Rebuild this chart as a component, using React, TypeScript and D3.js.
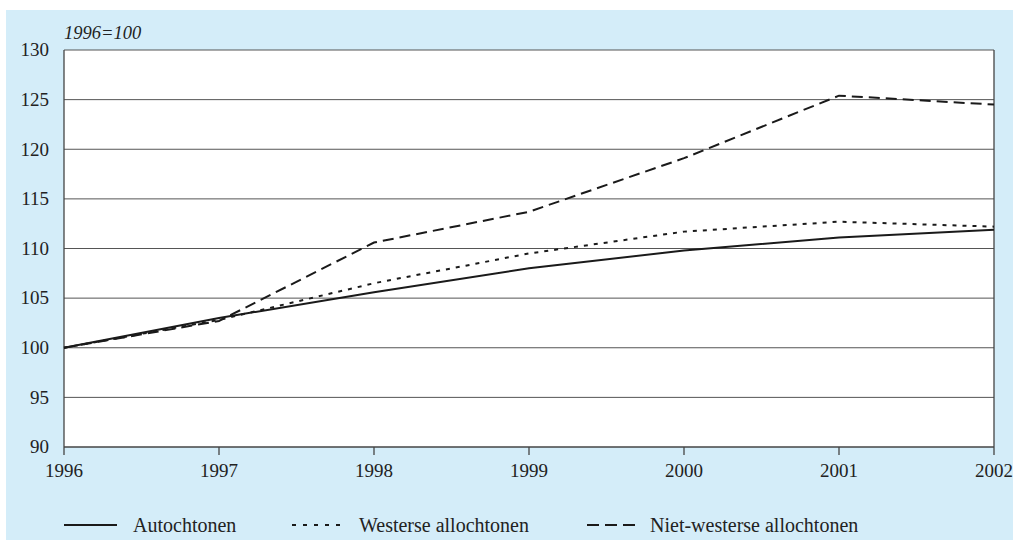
import React, { useEffect, useRef } from 'react';
import * as d3 from 'd3';

const YEARS = [1996, 1997, 1998, 1999, 2000, 2001, 2002];
const Y_TICKS = [90, 95, 100, 105, 110, 115, 120, 125, 130];

const AUTOCHTONEN = [100, 103.0, 105.6, 108.0, 109.8, 111.1, 111.9];
const WESTERS = [100, 102.8, 106.5, 109.5, 111.7, 112.7, 112.2];
const NIET_WESTERS = [100, 102.7, 110.6, 113.7, 119.1, 125.4, 124.5];

const SERIES_LABELS = ['Autochtonen', 'Westerse allochtonen', 'Niet-westerse allochtonen'];
const SERIES_DASH = ['none', '4 6', '11 6'];

const FONT = "'Liberation Serif', 'DejaVu Serif', serif";
const INK = '#222';

const App: React.FC = () => {
  const ref = useRef<SVGSVGElement>(null);

  useEffect(() => {
    const svgEl = ref.current;
    if (!svgEl) return;
    const svg = d3.select(svgEl);
    svg.selectAll('*').remove();

    const W = 1013;
    const plot = { left: 64, right: 994, top: 50, bottom: 447 };

    svg.append('rect').attr('x', 6).attr('y', 10).attr('width', W - 6).attr('height', 530).attr('fill', '#d4edf9');
    svg
      .append('rect')
      .attr('x', plot.left)
      .attr('y', plot.top)
      .attr('width', plot.right - plot.left)
      .attr('height', plot.bottom - plot.top)
      .attr('fill', '#fff');

    const x = d3.scaleLinear().domain([1996, 2002]).range([plot.left, plot.right]);
    const y = d3.scaleLinear().domain([90, 130]).range([plot.bottom, plot.top]);

    // gridlines
    svg
      .append('g')
      .selectAll('line')
      .data(Y_TICKS.filter((t) => t > 90))
      .join('line')
      .attr('x1', plot.left)
      .attr('x2', plot.right)
      .attr('y1', (d) => y(d))
      .attr('y2', (d) => y(d))
      .attr('stroke', '#555')
      .attr('stroke-width', 1);

    // y labels
    svg
      .append('g')
      .selectAll('text')
      .data(Y_TICKS)
      .join('text')
      .attr('x', 49)
      .attr('y', (d) => y(d))
      .attr('dy', '0.33em')
      .attr('text-anchor', 'end')
      .attr('font-family', FONT)
      .attr('font-size', 19)
      .attr('fill', INK)
      .text((d) => d);

    svg
      .append('text')
      .attr('x', plot.left)
      .attr('y', 39)
      .attr('font-family', FONT)
      .attr('font-style', 'italic')
      .attr('font-size', 18.5)
      .attr('fill', INK)
      .text('1996=100');

    // axes lines
    const axisG = svg.append('g').attr('stroke', '#444').attr('stroke-width', 1.3);
    axisG.append('line').attr('x1', plot.left).attr('x2', plot.left).attr('y1', plot.top).attr('y2', plot.bottom);
    axisG.append('line').attr('x1', plot.right).attr('x2', plot.right).attr('y1', plot.top).attr('y2', plot.bottom);
    axisG.append('line').attr('x1', plot.left).attr('x2', plot.right).attr('y1', plot.bottom).attr('y2', plot.bottom);
    axisG
      .selectAll('line.tick')
      .data(YEARS)
      .join('line')
      .attr('class', 'tick')
      .attr('x1', (d) => x(d))
      .attr('x2', (d) => x(d))
      .attr('y1', plot.bottom)
      .attr('y2', plot.bottom + 8);

    svg
      .append('g')
      .selectAll('text')
      .data(YEARS)
      .join('text')
      .attr('x', (d) => x(d))
      .attr('y', 477)
      .attr('text-anchor', 'middle')
      .attr('font-family', FONT)
      .attr('font-size', 19)
      .attr('fill', INK)
      .text((d) => d);

    // series
    const seriesData = [AUTOCHTONEN, WESTERS, NIET_WESTERS];
    const line = d3
      .line<number>()
      .x((_, i) => x(YEARS[i]))
      .y((d) => y(d));

    svg
      .append('g')
      .selectAll('path')
      .data(seriesData)
      .join('path')
      .attr('d', (d) => line(d))
      .attr('fill', 'none')
      .attr('stroke', '#1a1a1a')
      .attr('stroke-width', 2)
      .attr('stroke-dasharray', (_, i) => SERIES_DASH[i]);

    // legend
    const legendX = [64, 292, 587];
    const legend = svg
      .append('g')
      .selectAll('g')
      .data(SERIES_LABELS)
      .join('g')
      .attr('transform', (_, i) => `translate(${legendX[i]},525)`);
    legend
      .append('line')
      .attr('x1', 0)
      .attr('x2', (_, i) => (i === 0 ? 53 : 51))
      .attr('stroke', '#1a1a1a')
      .attr('stroke-width', 2)
      .attr('stroke-dasharray', (_, i) => (i === 1 ? '4 7' : i === 2 ? '12 6' : 'none'));
    legend
      .append('text')
      .attr('x', (_, i) => (i === 0 ? 69 : i === 1 ? 67 : 63))
      .attr('y', 7)
      .attr('font-family', FONT)
      .attr('font-size', 20)
      .attr('fill', INK)
      .text((d) => d);
  }, []);

  return (
    <svg
      ref={ref}
      width={1013}
      height={541}
      style={{ position: 'absolute', left: 0, top: 0, display: 'block' }}
      aria-label="Index 1996=100 line chart"
    />
  );
};

export default App;
